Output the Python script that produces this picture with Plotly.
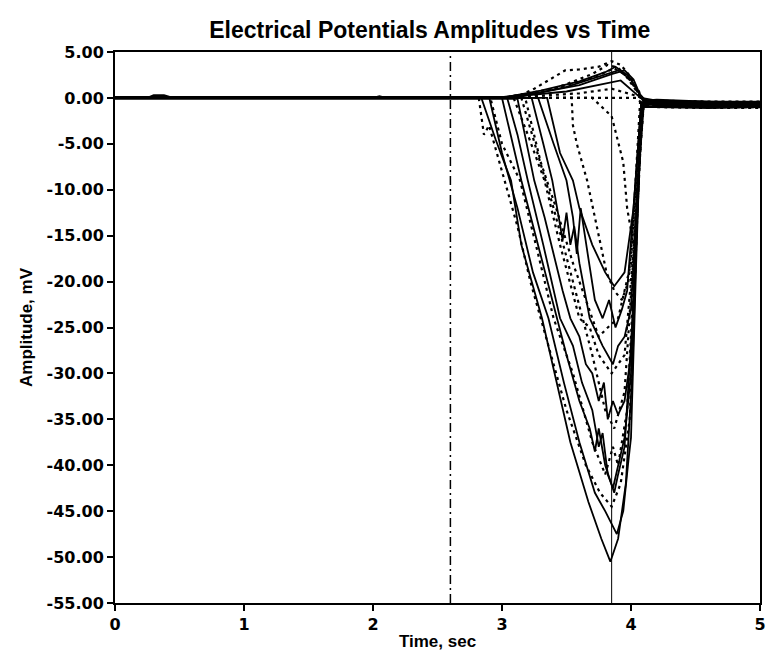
import plotly.graph_objects as go

TITLE = "Electrical Potentials Amplitudes vs Time"
X_LABEL = "Time, sec"
Y_LABEL = "Amplitude, mV"
X_TICK_VALS = [0, 1, 2, 3, 4, 5]
X_TICK_TEXT = ["0", "1", "2", "3", "4", "5"]
Y_TICK_VALS = [5, 0, -5, -10, -15, -20, -25, -30, -35, -40, -45, -50, -55]
Y_TICK_TEXT = ["5.00", "0.00", "-5.00", "-10.00", "-15.00", "-20.00", "-25.00",
               "-30.00", "-35.00", "-40.00", "-45.00", "-50.00", "-55.00"]
STIMULUS_T = 2.6
MARKER_T = 3.85

# ---- solid traces (time s, amplitude mV) ----
S1_T = [0, 0.25, 0.3, 0.38, 0.45, 2.0, 2.05, 2.1, 2.84, 2.95, 3.07, 3.15, 3.31, 3.44, 3.53,
        3.67, 3.77, 3.84, 3.9, 3.96, 4.01, 4.05, 4.08, 4.2, 4.6, 5.0]
S1_V = [0, 0, 0.3, 0.3, 0, 0, 0.2, 0, 0, -4.5, -9, -16, -24, -32, -37.5,
        -44, -48, -50.5, -48, -42, -30, -12, -1, -0.5, -0.7, -0.7]
S2_T = [0, 2.9, 3.0, 3.12, 3.24, 3.36, 3.48, 3.6, 3.72, 3.8, 3.89, 3.94, 3.98, 4.0, 4.04,
        4.08, 4.2, 4.6, 5.0]
S2_V = [0.1, 0.1, -6, -12, -19, -24, -31, -37.5, -43, -45, -47.5, -45, -39.5, -37, -18,
        -0.8, -0.4, -0.6, -0.6]
S3_T = [0, 3.04, 3.12, 3.2, 3.32, 3.45, 3.55, 3.62, 3.7, 3.75, 3.78, 3.82, 3.86, 3.9, 3.95,
        4.0, 4.04, 4.09, 4.2, 4.6, 5.0]
S3_V = [0, 0, -4, -9, -16, -24, -27, -31, -34, -38, -36.5, -41, -42.5, -40, -37,
        -30, -15, -0.6, -0.8, -0.9, -0.8]
S4_T = [0, 3.12, 3.25, 3.33, 3.4, 3.47, 3.53, 3.6, 3.65, 3.7, 3.75, 3.79, 3.82, 3.86, 3.9,
        3.95, 4.0, 4.05, 4.09, 4.2, 4.6, 5.0]
S4_V = [-0.1, -0.1, -9, -13, -17, -21, -24, -26, -29, -30, -33, -31, -35, -33, -34.5,
        -33, -28, -10, -0.5, -0.3, -0.5, -0.5]
S5_T = [0, 3.23, 3.32, 3.39, 3.44, 3.47, 3.5, 3.53, 3.56, 3.6, 3.64, 3.68, 3.73, 3.78, 3.86,
        3.9, 3.95, 4.0, 4.05, 4.1, 4.2, 4.6, 5.0]
S5_V = [0, 0, -5, -9, -13, -15.5, -12.5, -16, -14, -18, -21, -24, -25.5, -27, -29,
        -27, -26, -23, -10, -0.6, -0.7, -0.9, -0.9]
S6_T = [0, 3.28, 3.4, 3.5, 3.55, 3.58, 3.61, 3.64, 3.67, 3.72, 3.78, 3.83, 3.88, 3.93, 3.97,
        4.03, 4.08, 4.2, 4.6, 5.0]
S6_V = [0, 0, -5, -9, -13, -17, -12, -15, -17.5, -22, -24, -22, -25, -23, -21,
        -10, -0.5, -0.4, -0.6, -0.6]
S7_T = [0, 3.35, 3.45, 3.55, 3.6, 3.7, 3.8, 3.87, 3.95, 4.02, 4.08, 4.2, 4.6, 5.0]
S7_V = [0, 0, -6, -9, -12, -16, -19, -20.5, -19, -12, -0.5, -0.6, -0.8, -0.8]
S8_T = [0, 3.0, 3.15, 3.35, 3.5, 3.6, 3.68, 3.72, 3.75, 3.8, 3.87, 3.9, 3.95, 4.03, 4.08,
        4.2, 4.6, 5.0]
S8_V = [0, 0, -9, -20, -28, -33, -36, -38.5, -36, -40, -43, -41, -38, -20, -1,
        -1.0, -1.1, -1.0]
P1_T = [0, 3.0, 3.3, 3.6, 3.8, 3.88, 3.98, 4.07, 4.12, 4.2, 4.6, 5.0]
P1_V = [0, 0, 0.8, 1.8, 2.8, 3.4, 2.4, 0.4, -0.4, -0.5, -0.6, -0.6]
P3_T = [0, 2.95, 3.3, 3.6, 3.85, 3.95, 4.02, 4.08, 4.2, 4.6, 5.0]
P3_V = [0, 0, 0.6, 1.4, 2.6, 3.0, 2.0, 0, -0.3, -0.4, -0.4]
P5_T = [0, 3.05, 3.5, 3.8, 3.92, 4.05, 4.1, 4.2, 4.6, 5.0]
P5_V = [0.1, 0.1, 0.7, 1.5, 1.9, 0.3, -0.3, -0.2, -0.4, -0.5]
P7_T = [0, 3.1, 3.5, 3.75, 3.9, 4.0, 4.07, 4.12, 4.6, 5.0]
P7_V = [0, 0, 1.2, 2.3, 3.0, 2.0, 0.3, -0.9, -1.0, -0.9]

# ---- dotted traces ----
D0_T = [0, 4.04, 4.08, 4.2, 4.6, 5.0]
D0_V = [0, 0, -0.5, -0.6, -0.8, -0.8]
D1_T = [0, 2.82, 2.86, 2.9, 3.0, 3.12, 3.22, 3.36, 3.5, 3.65, 3.76, 3.85, 3.92, 3.99, 4.04,
        4.08, 4.2, 4.6, 5.0]
D1_V = [0, 0, -4, -3, -8, -14, -20, -27, -34, -40, -43, -44.5, -42, -35, -15,
        -1, -0.5, -0.7, -0.8]
D2_T = [0, 2.91, 3.0, 3.14, 3.28, 3.4, 3.55, 3.7, 3.8, 3.86, 3.9, 3.97, 4.04, 4.09, 4.2,
        4.6, 5.0]
D2_V = [0, 0, -5, -9, -17, -24, -30, -37.5, -41, -38, -40, -34, -15, -0.7, -0.8,
        -1.0, -1.0]
D3_T = [0, 3.09, 3.2, 3.33, 3.45, 3.6, 3.68, 3.75, 3.85, 3.95, 4.03, 4.08, 4.2, 4.6, 5.0]
D3_V = [0, 0, -4, -9, -16, -24, -25, -28, -30, -28, -15, -0.8, -0.6, -0.7, -0.7]
D4_T = [0, 3.18, 3.3, 3.42, 3.55, 3.65, 3.75, 3.82, 3.9, 4.0, 4.07, 4.2, 4.6, 5.0]
D4_V = [0, 0, -7, -12, -18, -22, -26, -25, -24, -18, -0.5, -0.4, -0.5, -0.6]
D5_T = [0, 3.54, 3.55, 3.58, 3.62, 3.66, 3.72, 3.77, 3.81, 3.87, 3.93, 3.98, 4.04, 4.08,
        4.2, 4.6, 5.0]
D5_V = [0, 0, -3, -5, -7, -9, -13, -16.5, -19, -21, -22, -20, -10, -0.6,
        -0.7, -0.8, -0.8]
D6_T = [0, 3.7, 3.85, 3.94, 3.97, 4.02, 4.06, 4.1, 4.2, 4.6, 5.0]
D6_V = [0, 0, -2, -7, -12, -16, -8, -0.5, -0.6, -0.9, -0.9]
D7_T = [0, 3.15, 3.4, 3.55, 3.7, 3.8, 3.87, 3.95, 4.03, 4.08, 4.2, 4.6, 5.0]
D7_V = [0, 0, -12, -20, -28, -34, -36, -32, -15, -1, -0.3, -0.4, -0.4]
P2_T = [0, 3.1, 3.25, 3.35, 3.49, 3.6, 3.75, 3.85, 3.92, 3.98, 4.05, 4.1, 4.2, 4.6, 5.0]
P2_V = [0, 0, 1, 1.8, 3.0, 3.1, 3.4, 4.0, 3.6, 2.6, 1.0, -0.3, -0.5, -0.7, -0.7]
P4_T = [0, 3.0, 3.4, 3.7, 3.87, 3.95, 4.05, 4.1, 4.2, 4.6, 5.0]
P4_V = [0, 0, 1.0, 2.2, 3.2, 2.6, 0.6, -0.4, -0.5, -0.6, -0.6]
P6_T = [0, 3.0, 3.6, 3.85, 4.05, 4.1, 4.2, 4.6, 5.0]
P6_V = [0, 0, 0.5, 1.0, 0.2, -0.2, -0.3, -0.5, -0.5]
P8_T = [0, 3.2, 3.5, 3.7, 3.82, 3.9, 4.0, 4.08, 4.2, 4.6, 5.0]
P8_V = [0, 0, 1.5, 2.6, 3.6, 3.3, 1.8, 0, -1.0, -1.1, -1.1]

SOLID = [(S1_T, S1_V), (S2_T, S2_V), (S3_T, S3_V), (S4_T, S4_V), (S5_T, S5_V),
         (S6_T, S6_V), (S7_T, S7_V), (S8_T, S8_V), (P1_T, P1_V), (P3_T, P3_V),
         (P5_T, P5_V), (P7_T, P7_V)]
DOTTED = [(D0_T, D0_V), (D1_T, D1_V), (D2_T, D2_V), (D3_T, D3_V), (D4_T, D4_V),
          (D5_T, D5_V), (D6_T, D6_V), (D7_T, D7_V), (P2_T, P2_V), (P4_T, P4_V),
          (P6_T, P6_V), (P8_T, P8_V)]

TICK_FONT = dict(family="DejaVu Sans", size=16, color="black", weight="bold")
TEXT_FONT = "Liberation Sans"

fig = go.Figure()
for t, v in DOTTED:
    fig.add_trace(go.Scatter(x=t, y=v, mode="lines",
                             line=dict(color="black", width=2.2, dash="3px,4px")))
for t, v in SOLID:
    fig.add_trace(go.Scatter(x=t, y=v, mode="lines",
                             line=dict(color="black", width=1.8)))

fig.add_vline(x=STIMULUS_T, line=dict(color="black", width=1.5, dash="9px,4px,2px,4px"))
fig.add_vline(x=MARKER_T, line=dict(color="black", width=1))

fig.update_layout(
    width=766, height=656,
    margin=dict(l=115, r=6, t=52, b=53),
    paper_bgcolor="white", plot_bgcolor="white",
    showlegend=False,
    title=dict(text=TITLE, x=0.561, xanchor="center", y=0.954, yanchor="middle",
               font=dict(family=TEXT_FONT, size=23, color="black", weight="bold")),
)
fig.update_xaxes(range=[0, 5], tickvals=X_TICK_VALS, ticktext=X_TICK_TEXT,
                 showgrid=False, zeroline=False, showline=True, linecolor="black",
                 linewidth=2, mirror=True, ticks="outside", ticklen=6, tickwidth=2,
                 tickcolor="black", tickfont=TICK_FONT, automargin=False,
                 title=dict(text=X_LABEL, standoff=2,
                            font=dict(family=TEXT_FONT, size=17, color="black", weight="bold")))
fig.update_yaxes(range=[-55, 5], tickvals=Y_TICK_VALS, ticktext=Y_TICK_TEXT,
                 showgrid=False, zeroline=False, showline=True, linecolor="black",
                 linewidth=2, mirror=True, ticks="outside", ticklen=6, tickwidth=2,
                 tickcolor="black", tickfont=TICK_FONT, automargin=False,
                 title=dict(text=Y_LABEL, standoff=10,
                            font=dict(family=TEXT_FONT, size=17, color="black", weight="bold")))

# remove the default page margin so the 766x656 figure fills the window exactly
fig.write_html("out.html", config={"displayModeBar": False},
               post_script="document.body.style.margin='0';document.body.style.overflow='hidden';")
